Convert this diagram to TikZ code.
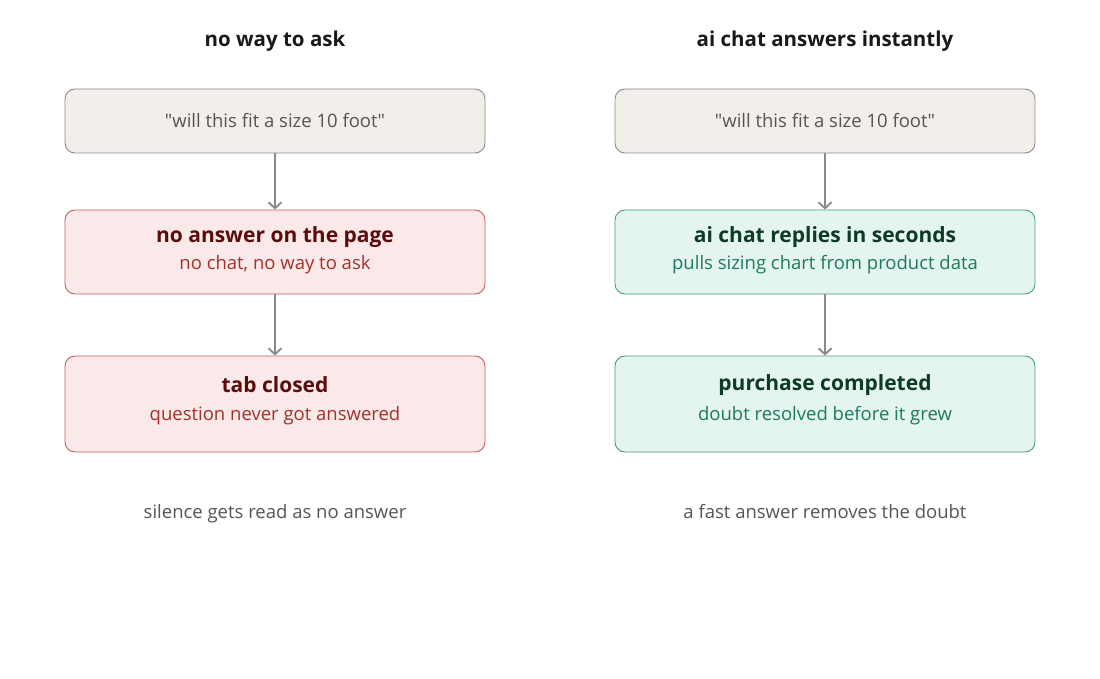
\documentclass[tikz,border=0pt]{standalone}
\usepackage{fontspec}
\setmainfont{Open Sans}
\usetikzlibrary{arrows.meta}
\definecolor{askfill}{HTML}{F2EFEA}
\definecolor{askline}{HTML}{8C8A87}
\definecolor{badfill}{HTML}{FBE9E9}
\definecolor{badline}{HTML}{C0605E}
\definecolor{badhead}{HTML}{5A0C0C}
\definecolor{badsub}{HTML}{A3302A}
\definecolor{goodfill}{HTML}{E3F5EE}
\definecolor{goodline}{HTML}{4E9A7C}
\definecolor{goodhead}{HTML}{0D3B25}
\definecolor{goodsub}{HTML}{1F7A56}
\definecolor{arrowgray}{HTML}{8A8A8A}
\definecolor{textgray}{HTML}{555555}
\tikzset{
  box/.style={draw, line width=0.9pt, rounded corners=10pt, minimum width=420pt},
  askbox/.style={box, fill=askfill, draw=askline, minimum height=64pt, text=textgray, font=\fontsize{18.5}{22}\selectfont},
  badbox/.style={box, fill=badfill, draw=badline},
  goodbox/.style={box, fill=goodfill, draw=goodline},
  boxhead/.style={font=\fontsize{21}{25}\selectfont\bfseries},
  boxsub/.style={font=\fontsize{18.5}{22}\selectfont},
  flow/.style={draw=arrowgray, line width=2.2pt, -{Straight Barb[length=6pt,width=13pt,line width=1.9pt]}},
  colhead/.style={font=\fontsize{20.5}{24}\selectfont\bfseries, text=black!90},
  foot/.style={font=\fontsize{18.5}{22}\selectfont, text=textgray, text height=1.45ex, text depth=0.45ex}
}
\begin{document}
\begin{tikzpicture}[x=1pt,y=-1pt]
    \useasboundingbox (0,0) rectangle (1100,679);
    % left column
    \node[colhead] (lhead) at (275,41) {no way to ask};
    \node[askbox] (lask) at (275,121) {\textquotedbl will this fit a size 10 foot\textquotedbl};
    \node[badbox, minimum height=84pt] (lnone) at (275,252) {};
    \node[boxhead, text=badhead] (lnonet) at (275,237) {no answer on the page};
    \node[boxsub, text=badsub] (lnones) at (275,265) {no chat, no way to ask};
    \node[badbox, minimum height=96pt] (lclosed) at (275,404) {};
    \node[boxhead, text=badhead] (lclosedt) at (275,385) {tab closed};
    \node[boxsub, text=badsub] (lcloseds) at (275,416) {question never got answered};
    \node[foot] (lfoot) at (275,516) {silence gets read as no answer};
    % right column
    \node[colhead] (rhead) at (825,41) {ai chat answers instantly};
    \node[askbox] (rask) at (825,121) {\textquotedbl will this fit a size 10 foot\textquotedbl};
    \node[goodbox, minimum height=84pt] (rchat) at (825,252) {};
    \node[boxhead, text=goodhead] (rchatt) at (825,237) {ai chat replies in seconds};
    \node[boxsub, text=goodsub] (rchats) at (825,265) {pulls sizing chart from product data};
    \node[goodbox, minimum height=96pt] (rdone) at (825,404) {};
    \node[boxhead, text=goodhead] (rdonet) at (825,385) {purchase completed};
    \node[boxsub, text=goodsub] (rdones) at (825,416) {doubt resolved before it grew};
    \node[foot] (rfoot) at (825,516) {a fast answer removes the doubt};
    % arrows
    \draw[flow] (lask) -- (lnone);
    \draw[flow] (lnone) -- (lclosed);
    \draw[flow] (rask) -- (rchat);
    \draw[flow] (rchat) -- (rdone);
\end{tikzpicture}
\end{document}
